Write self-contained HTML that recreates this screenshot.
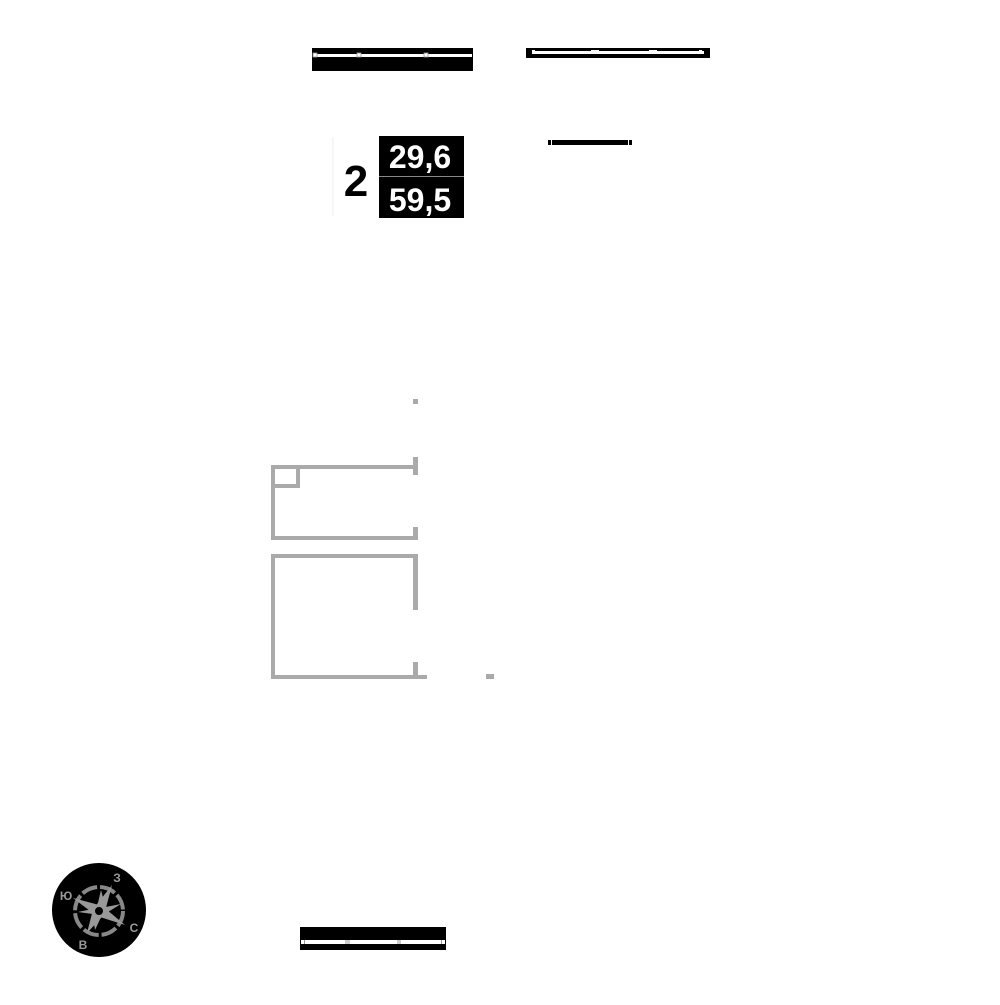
<!DOCTYPE html>
<html><head><style>body{margin:0;background:#fff}</style></head><body>
<svg width="1000" height="1000" viewBox="0 0 1000 1000" xmlns="http://www.w3.org/2000/svg" font-family="Liberation Sans, sans-serif">
<rect width="1000" height="1000" fill="#fff"/>
<!-- top bar 1 -->
<rect x="312" y="48" width="161" height="23" fill="#000"/>
<rect x="313" y="54" width="159" height="3" fill="#fff"/>
<rect x="313" y="53" width="4" height="4" fill="#fff" stroke="#999" stroke-width="0.8"/>
<rect x="357" y="53" width="4" height="4" fill="#fff" stroke="#999" stroke-width="0.8"/>
<rect x="424" y="53" width="4" height="4" fill="#fff" stroke="#999" stroke-width="0.8"/>
<!-- top bar 2 -->
<rect x="526" y="48" width="184" height="10" fill="#000"/>
<rect x="532" y="51" width="172" height="3" fill="#fff"/>
<rect x="532" y="50" width="3" height="4" fill="#fff"/>
<rect x="591" y="50" width="8" height="4" fill="#fff"/>
<rect x="649" y="50" width="8" height="4" fill="#fff"/>
<rect x="699" y="50" width="3" height="4" fill="#fff"/>
<!-- short line -->
<rect x="548" y="140" width="84" height="5" fill="#000"/>
<rect x="551" y="140" width="1" height="5" fill="#fff"/>
<rect x="628" y="140" width="1" height="5" fill="#fff"/>
<!-- label -->
<line x1="333" y1="137" x2="333" y2="216" stroke="#eee" stroke-width="1"/>
<text x="356" y="196" font-size="44" font-weight="bold" text-anchor="middle" fill="#000">2</text>
<rect x="379" y="136" width="85" height="40" fill="#000"/>
<rect x="379" y="177" width="85" height="41" fill="#000"/>
<line x1="379" y1="176.5" x2="464" y2="176.5" stroke="#888" stroke-width="1"/>
<text x="420" y="168" font-size="32" font-weight="bold" text-anchor="middle" fill="#fff">29,6</text>
<text x="420" y="211" font-size="32" font-weight="bold" text-anchor="middle" fill="#fff">59,5</text>
<!-- plan -->
<g fill="#aaa">
<rect x="413" y="399" width="5" height="5"/>
<rect x="271" y="465" width="147" height="4"/>
<rect x="413" y="457" width="5" height="18"/>
<rect x="271" y="465" width="4" height="75"/>
<rect x="271" y="484" width="29" height="4"/>
<rect x="296" y="465" width="4" height="23"/>
<rect x="271" y="536" width="147" height="4"/>
<rect x="413" y="527" width="5" height="13"/>
<rect x="271" y="554" width="147" height="4"/>
<rect x="271" y="554" width="4" height="125"/>
<rect x="413" y="554" width="5" height="56"/>
<rect x="271" y="675" width="156" height="4"/>
<rect x="413" y="662" width="5" height="17"/>
<rect x="486" y="674" width="8" height="5"/>
</g>
<!-- compass -->
<circle cx="99" cy="910" r="47" fill="#000"/>
<circle cx="99" cy="911" r="24" fill="none" stroke="#888" stroke-width="4" stroke-dasharray="16 3"/>
<g fill="#999">
<polygon points="121,904 105.5,907 101,890 96.8,908 78,912 92.5,914 95,930 101.5,916"/>
<polygon points="112,885 105.7,908.9 125,925 101.5,917.5 87,933 92.2,912.6 73,898 96.8,904.4"/>
</g>
<circle cx="99" cy="911" r="5" fill="#000" stroke="#999" stroke-width="2"/>
<g fill="#999" font-size="12" font-weight="bold" text-anchor="middle">
<text x="117" y="882">З</text>
<text x="66" y="900">Ю</text>
<text x="134" y="932">С</text>
<text x="83" y="949">В</text>
</g>
<!-- bottom bar -->
<rect x="300" y="927" width="146" height="23" fill="#000"/>
<rect x="301" y="940" width="144" height="4" fill="#fff"/>
<rect x="304" y="940" width="1" height="4" fill="#999"/>
<rect x="345" y="940" width="5" height="4" fill="#999" opacity="0.5"/>
<rect x="397" y="940" width="4" height="4" fill="#999" opacity="0.5"/>
<rect x="441" y="940" width="1" height="4" fill="#999"/>
</svg>
</body></html>
